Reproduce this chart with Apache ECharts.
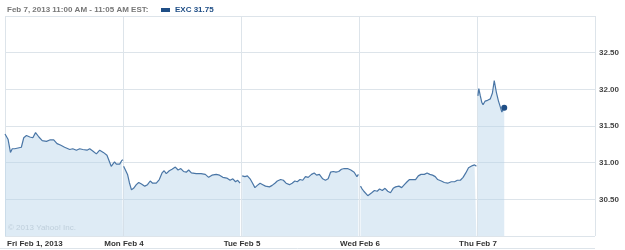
<!DOCTYPE html>
<html>
<head>
<meta charset="utf-8">
<script src="https://cdn.jsdelivr.net/npm/echarts@6/dist/echarts.min.js"></script>
<style>
html,body{margin:0;padding:0;background:#fff;}
#c{width:625px;height:250px;}
</style>
</head>
<body>
<div id="c"></div>
<script>
// Day labels (x axis) and price ticks (y axis)
const dayLabels = ['Fri Feb 1, 2013', 'Mon Feb 4', 'Tue Feb 5', 'Wed Feb 6', 'Thu Feb 7'];
const priceTicks = [30.5, 31.0, 31.5, 32.0, 32.5];
const headerText = 'Feb 7, 2013 11:00 AM - 11:05 AM EST:';
const seriesName = 'EXC';
const lastPrice = 31.75;
const minutesPerDay = 390;

// [minutes since 9:30 open, price]
const fri = [[0,31.39],[5,31.41],[10,31.32],[18,31.14],[24,31.19],[32,31.19],[43,31.20],[54,31.21],[62,31.34],[71,31.37],[82,31.35],[92,31.34],[101,31.41],[112,31.35],[123,31.30],[137,31.29],[148,31.31],[161,31.31],[172,31.26],[183,31.24],[197,31.21],[214,31.18],[224,31.19],[236,31.17],[247,31.19],[257,31.18],[271,31.17],[280,31.19],[290,31.16],[302,31.12],[313,31.17],[325,31.14],[337,31.10],[351,30.95],[362,31.01],[368,30.98],[379,30.98],[386,31.03],[390,31.04]];
const mon = [[2,30.95],[8,30.90],[15,30.84],[21,30.73],[28,30.63],[35,30.65],[44,30.70],[52,30.73],[61,30.71],[72,30.68],[81,30.70],[90,30.75],[98,30.72],[110,30.72],[120,30.77],[129,30.86],[136,30.89],[143,30.85],[153,30.89],[162,30.91],[173,30.94],[182,30.90],[191,30.92],[200,30.88],[209,30.87],[217,30.90],[226,30.86],[242,30.85],[258,30.85],[272,30.84],[283,30.80],[294,30.83],[308,30.84],[319,30.83],[330,30.80],[343,30.79],[354,30.76],[363,30.78],[372,30.74],[379,30.76],[387,30.72]];
const tue = [[4,30.82],[13,30.81],[21,30.82],[30,30.78],[37,30.73],[46,30.66],[54,30.69],[63,30.72],[72,30.70],[81,30.68],[87,30.70],[94,30.67],[103,30.69],[112,30.72],[120,30.75],[131,30.77],[140,30.76],[149,30.72],[160,30.70],[169,30.72],[178,30.75],[186,30.74],[195,30.77],[204,30.76],[213,30.81],[222,30.80],[233,30.84],[242,30.86],[250,30.83],[259,30.84],[270,30.78],[279,30.76],[288,30.78],[296,30.87],[305,30.88],[314,30.87],[323,30.88],[332,30.91],[341,30.92],[352,30.92],[363,30.90],[374,30.87],[383,30.81],[388,30.84]];
const wed = [[5,30.68],[9,30.65],[16,30.61],[22,30.59],[29,30.55],[35,30.53],[42,30.59],[51,30.62],[60,30.61],[68,30.64],[77,30.62],[86,30.65],[95,30.61],[104,30.59],[113,30.65],[121,30.67],[132,30.68],[141,30.66],[150,30.70],[159,30.74],[167,30.77],[179,30.77],[187,30.77],[196,30.82],[205,30.84],[216,30.84],[225,30.86],[234,30.84],[243,30.83],[252,30.81],[260,30.77],[272,30.75],[282,30.73],[293,30.72],[305,30.74],[316,30.74],[325,30.76],[335,30.76],[344,30.80],[353,30.86],[362,30.93],[368,30.92],[375,30.96],[382,30.97],[388,30.95]];
const thu = [[3,31.91],[6,32.01],[11,31.91],[16,31.82],[20,31.79],[27,31.84],[35,31.85],[44,31.87],[51,31.95],[57,32.12],[64,31.96],[71,31.84],[77,31.76],[82,31.69],[86,31.70],[90,31.75]];

const days = [fri, mon, tue, wed, thu];
const data = [];
days.forEach((d, i) => {
  d.forEach(p => data.push([i + p[0] / minutesPerDay, p[1]]));
  if (i < days.length - 1) data.push([i + 1, null]);
});
const lastPt = [days.length - 1 + thu[thu.length - 1][0] / minutesPerDay, lastPrice];

const chart = echarts.init(document.getElementById('c'), null, {renderer: 'canvas'});
const gridColor = '#dde4ea';
chart.setOption({
  animation: false,
  backgroundColor: '#fff',
  textStyle: {fontFamily: 'Liberation Sans, Arial, sans-serif'},
  title: {
    text: headerText,
    left: 7, top: 6, padding: 0,
    textStyle: {fontSize: 8, fontWeight: 'bold', color: '#777', fontFamily: 'Liberation Sans'}
  },
  legend: {
    left: 161, top: 6, padding: 0,
    icon: 'rect', itemWidth: 9, itemHeight: 4, itemGap: 4,
    data: [seriesName],
    formatter: n => n + ' ' + lastPrice.toFixed(2),
    textStyle: {fontSize: 8, fontWeight: 'bold', color: '#1f4e86', fontFamily: 'Liberation Sans'}
  },
  graphic: [
    {type: 'text', left: 8, top: 224, z: 1, style: {text: '© 2013 Yahoo! Inc.', fill: '#c8cdd2', font: '8px Liberation Sans'}},
    {type: 'line', shape: {x1: 0, y1: 248.5, x2: 595, y2: 248.5}, style: {stroke: gridColor, lineWidth: 1}}
  ],
  grid: {left: 5, right: 30, top: 16, bottom: 14},
  xAxis: {
    type: 'value', min: 0, max: 5, interval: 1,
    axisLine: {show: false}, axisTick: {show: false},
    splitLine: {show: true, lineStyle: {color: gridColor, width: 1}},
    axisLabel: {
      show: true, margin: 4, fontSize: 8, fontWeight: 'bold', color: '#333', fontFamily: 'Liberation Sans',
      showMaxLabel: false, alignMinLabel: 'left', padding: [0, 0, 0, 2],
      formatter: v => dayLabels[Math.round(v)] || ''
    }
  },
  yAxis: {
    type: 'value', position: 'right', min: 30, max: 33, interval: 0.5,
    axisLine: {show: false}, axisTick: {show: false},
    splitLine: {show: true, lineStyle: {color: gridColor, width: 1}},
    axisLabel: {
      margin: 4, fontSize: 8, fontWeight: 'bold', color: '#444', fontFamily: 'Liberation Sans',
      formatter: v => priceTicks.some(t => Math.abs(t - v) < 1e-6) ? v.toFixed(2) : ''
    }
  },
  series: [
    {
      name: seriesName, type: 'line', data: data, showSymbol: false, connectNulls: false,
      lineStyle: {color: '#4a76a6', width: 1.2},
      itemStyle: {color: '#1f4e86'},
      areaStyle: {color: 'rgba(180,208,232,0.62)', origin: 'start'},
      z: 2
    },
    {
      name: 'last', type: 'scatter', data: [lastPt], symbolSize: 6,
      itemStyle: {color: '#1f4e86', opacity: 1}, z: 3
    }
  ]
});
</script>
</body>
</html>
